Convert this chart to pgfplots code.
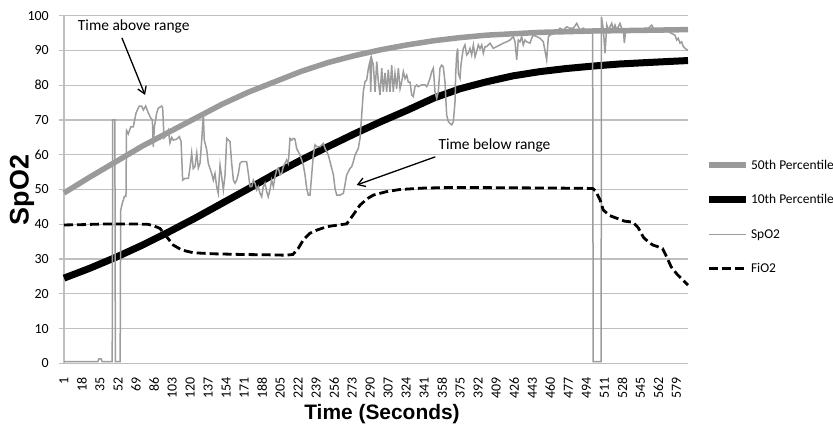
\documentclass[border=0pt]{standalone}
\usepackage{fontspec}
\setmainfont{Carlito}
\newfontfamily\arialfont{Liberation Sans}
\usepackage{pgfplots}
\pgfplotsset{compat=1.18}
\usetikzlibrary{arrows.meta}
\definecolor{pctgray}{HTML}{9A9A9A}
\definecolor{spogray}{HTML}{9C9C9C}
\definecolor{gridgray}{HTML}{BFBFBF}

\begin{document}
\begin{tikzpicture}
\path[use as bounding box] (0,0) rectangle (833bp,426bp);
\begin{axis}[
  at={(64bp,62.7bp)}, anchor=south west,
  scale only axis, width=624bp, height=347.6bp,
  xmin=1, xmax=590, ymin=0, ymax=100,
  xtick={1,18,...,579}, ytick={0,10,...,100},
  axis x line*=bottom, axis y line*=left,
  axis line style={gridgray, line width=1.2bp, -},
  ymajorgrids, grid style={gridgray, line width=1.2bp},
  xtick style={draw=none},
  ytick style={gridgray, line width=1.2bp},
  tick align=outside, major tick length=5bp,
  /pgf/number format/assume math mode=true,
  tick label style={font=\fontsize{14}{14}\selectfont},
  yticklabel style={anchor=east, inner sep=0pt, xshift=-10bp},
  xticklabel style={yshift=-9bp, rotate=90, anchor=east, inner sep=0pt},
  xlabel={Time (Seconds)},
  xlabel style={font=\arialfont\bfseries\fontsize{21}{21}\selectfont,
    at={(axis description cs:0.5096,-0.163)}, anchor=base},
  ylabel={SpO2},
  ylabel style={font=\arialfont\bfseries\fontsize{27}{27}\selectfont,
    at={(axis description cs:-0.0673,0.4986)}, anchor=center},
  clip=false,
  legend cell align=left,
  legend image code/.code={\draw[#1] (0bp,0bp) -- (37bp,0bp);},
  legend style={draw=none, fill=none, inner sep=0pt,
    font=\fontsize{13.5}{13.5}\selectfont,
    at={(axis description cs:1.027,0.421)}, anchor=west,
    row sep=20bp, nodes={inner xsep=2bp}},
]
% 50th percentile
\addplot[pctgray, line width=5.5bp] coordinates {
 (1,49) (25,53.5) (50,58) (75,62.5) (100,66.5) (125,70.5) (150,74.5)
 (175,78) (200,81) (225,84) (250,86.5) (275,88.5) (300,90.2) (325,91.6)
 (350,92.8) (375,93.7) (400,94.4) (450,95.2) (500,95.6) (550,95.8) (590,96)
};
\addlegendentry{50th Percentile}
% 10th percentile
\addplot[black, line width=7bp] coordinates {
 (1,24.5) (25,27.3) (50,30.5) (75,34) (100,37.8) (125,41.8) (150,46)
 (175,50.2) (200,54.5) (225,58.5) (250,62.3) (275,66) (300,69.5) (325,72.8)
 (350,76.3) (375,79) (400,81) (425,82.7) (450,83.9) (475,84.8) (500,85.5)
 (525,86.1) (550,86.5) (590,87.1)
};
\addlegendentry{10th Percentile}
% SpO2
\addplot[spogray, line width=1.5bp] coordinates {
 (1,0.5) (33,0.5) (34,1.3) (36,1.3) (37,0.5) (46.5,0.5) (47,70) (49,70) (49.5,0.5)
 (54,0.5) (54.5,44) (56,46) (58,48) (59.5,48) (60,67) (61.7,66) (64,68) (66.4,68)
 (69,72) (72,74) (74.3,74) (75.9,72.9) (78.1,74) (80.6,72) (82.8,70.6) (84.4,70)
 (85.3,62.3) (86.3,68) (88.5,72) (90,73.4) (93.2,74) (94.1,73.6) (95.4,64.8)
 (97.9,65.8) (99.5,67) (101,63.4) (102.7,65) (104.2,64.2) (107.4,64.5) (109.9,65.2)
 (111.5,63.8) (113,52.7) (115.2,53.2) (118.4,53.2) (119.9,56.2) (121.5,60.5)
 (123,56) (124.6,56.6) (126.3,60.5) (127.8,56.2) (129.4,57.6) (131,64.2) (132.5,72)
 (133.4,64.2) (135.7,61.4) (137.2,57.5) (140.4,54.6) (141.9,52.7) (143.5,54.6)
 (145.1,50.8) (146.6,48.9) (148.3,57) (149.8,53.7) (151.4,49.9) (153,54.2)
 (154.6,64.7) (156.1,64.2) (157.7,63.8) (159.3,57.5) (160.9,52.7) (162.4,51.8)
 (164,52.7) (165.6,54.6) (167.1,57.5) (168.7,58) (173.4,58) (175,54.6) (176.6,50.8)
 (178.2,50.8) (179.7,52.7) (181.3,51.8) (182.9,49.9) (184.4,50.8) (186,48.9)
 (187.6,47.9) (189.1,50.8) (190.7,51.8) (192.3,49.4) (193.8,47.9) (195.4,49.9)
 (197,52.7) (198.6,50.8) (200.2,53.7) (201.7,55.6) (203.3,56.2) (204.9,54.2)
 (206.5,54.6) (208,56.6) (209.6,57.5) (211.2,58.5) (212.7,57.5) (214.3,64.7)
 (215.9,64.2) (217.5,64.7) (219,64.5) (220.6,61.8) (223.8,59.9) (226.9,57)
 (228.5,54.2) (230.1,50.3) (231.6,48.4) (233.2,48.4) (234.8,54.2) (236.3,59.9)
 (237.9,62.8) (239.5,62.3) (242.6,62.3) (245.8,63.3) (247.4,61.8) (249,60.9)
 (250.5,59.9) (252.1,58) (253.7,56.1) (255.3,54.2) (256.8,50.3) (258.4,48.4)
 (261.5,48.4) (264.7,48.9) (266.2,51.3) (267.8,54.2) (271,56.1) (272.6,56.6)
 (274.1,58) (275.7,59.9) (277.3,60.9) (278.8,61.8) (280.4,64.7) (282,71.4)
 (283.5,78.1) (285.1,81) (286.7,81.5) (288.3,84.9) (289.8,86.8) (290.5,78.1)
 (291.4,87.7) (293,85.8) (294.6,78.1) (296.2,86.8) (297.7,81) (299.3,77.2)
 (300.9,84.9) (302.4,78.1) (304,83.5) (305.6,78.1) (307.1,84.5) (308.7,78.1)
 (310.3,85.8) (311.8,78.1) (313.4,83.4) (315,79) (316.6,84.9) (318.2,79)
 (319.7,80.9) (321.3,83.9) (322.9,81.9) (324.5,82.9) (326,80.9) (327.6,80.9)
 (329.2,77.2) (330.7,76.7) (332.3,79.6) (333.9,80.1) (335.4,79.6) (338.6,80.1)
 (341.8,80.1) (343.4,79.6) (344.9,80.6) (346.5,82) (348.1,83.9) (349.6,84.9)
 (351.2,78.1) (352.8,76.2) (354.3,78.1) (355.9,84.9) (357.5,85.8) (359,85.3)
 (360.6,81) (362.2,71.4) (363.8,69.5) (365.4,69) (366.9,68.6) (368.5,69.5)
 (370.1,75.3) (370.7,83) (371.6,88.7) (372.6,90.6) (373.2,83.4) (374.8,82)
 (375.7,85.8) (377,88.7) (377.9,90.6) (379.5,91.6) (381.1,88.7) (382.6,89.2)
 (384.2,90.6) (385.8,88.7) (387.4,91.6) (389,88.2) (390.5,89.7) (392.1,91.6)
 (393.7,90.5) (395.3,91.6) (396.8,89.2) (398.4,91.1) (400,91.1) (401.5,91.6)
 (403.1,92.1) (406.2,90.6) (409.4,91.1) (412.6,91.6) (415.7,92.1) (418.9,92.5)
 (422,93) (425.1,94) (426.7,92.5) (428.3,87.3) (429.8,93) (431.4,92.5) (433,94)
 (434.5,91.6) (436.1,93) (437.7,92.5) (440.9,92.1) (442.4,93.5) (444,94.4)
 (447.1,94) (450.3,93.5) (453.4,92.5) (456.6,87.3) (458.2,94) (459.7,94.4)
 (462.9,94.9) (466,95.4) (469.2,96.4) (472.3,95.9) (475.5,96.8) (478.6,96.4)
 (481.8,96.4) (485,97.8) (486.5,96.8) (488.1,95.9) (491.3,96.4) (494.4,95.4)
 (497.5,95.4) (500,95) (500.5,0.5) (508,0.5) (508.3,99.7) (510.1,95.9) (511.7,89.2)
 (513.3,97.3) (514.8,95.9) (516.4,96.8) (518,97.8) (519.5,95.9) (521.1,97.3)
 (522.7,95.9) (524.2,96.8) (525.8,97.8) (527.4,96.4) (529,95.9) (529.9,92.1)
 (531.2,95.9) (533.7,95.4) (540,95.4) (546.3,95.9) (549.4,96.4) (552.5,96.4)
 (555.8,97.3) (557.3,96.4) (558.9,95.4) (565.2,95.4) (571.4,95.4) (574.6,94.9)
 (577.7,94.4) (579.3,93) (580.8,93.5) (582.4,92.1) (584,92.5) (585.6,91.1)
 (587.2,90.6) (590,90)
};
\addlegendentry{SpO2}
% FiO2
\addplot[black, line width=2.8bp, dash pattern=on 9bp off 4bp] coordinates {
 (1,39.8) (20,39.9) (40,40.1) (60,40.1) (80,40) (85.3,39.6) (91.6,38.8)
 (97.9,36.4) (104.2,34) (112.1,32.6) (123,31.8) (142,31.5) (170,31.3)
 (195,31.2) (210,31.1) (217,31.3) (222,33) (226.9,35.5) (233,37.4) (239.5,38.3)
 (249,39.3) (260,39.8) (267.8,40.1) (274,42.7) (280.4,45.5) (287,47.3) (293,48.4)
 (305.6,49.4) (318,50) (340,50.4) (370,50.6) (420,50.5) (470,50.4) (500,50.3)
 (503,49.5) (507,47) (510,44.1) (516,42.5) (523,41.7) (530,40.9) (538,40.6)
 (543,39) (548,36.2) (553,34.8) (557,34) (562,33.5) (566,33) (570,30.5)
 (574,27.8) (580,25.5) (585,24) (590,22.5)
};
\addlegendentry{FiO2}
% annotations
\node[anchor=west, inner sep=0pt, font=\fontsize{15.5}{15.5}\selectfont]
  at (axis cs:14,97) {Time above range};
\draw[-{Straight Barb[length=7bp,width=9bp]}, line width=1.3bp]
  (axis cs:55.7,93.6) -- (axis cs:77.5,77.2);
\node[anchor=west, inner sep=0pt, font=\fontsize{15.5}{15.5}\selectfont]
  at (axis cs:354.3,62.6) {Time below range};
\draw[-{Straight Barb[length=7bp,width=9bp]}, line width=1.3bp]
  (axis cs:351.5,59.4) -- (axis cs:277.3,51.3);
\end{axis}
\end{tikzpicture}
\end{document}
